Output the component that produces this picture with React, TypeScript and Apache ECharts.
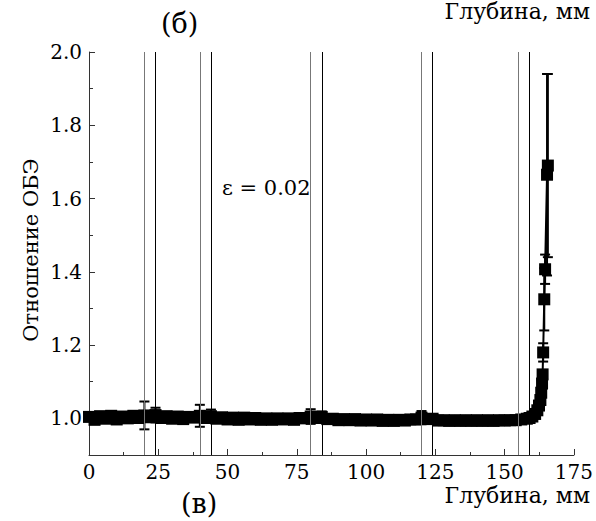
import React, { useEffect, useRef } from "react";
import * as echarts from "echarts";

// Depth (mm) and RBE ratio along the flat part
const flatDepth = [
  0, 2, 4, 6, 8, 10, 12, 14, 16, 18, 20, 22, 24, 26, 28, 30, 32, 34, 36, 38,
  40, 42, 44, 46, 48, 50, 52, 54, 56, 58, 60, 62, 64, 66, 68, 70, 72, 74, 76, 78,
  80, 82, 84, 86, 88, 90, 92, 94, 96, 98, 100, 102, 104, 106, 108, 110, 112, 114, 116, 118,
  120, 122, 124, 126, 128, 130, 132, 134, 136, 138, 140, 142, 144, 146, 148, 150, 152, 154, 156, 158,
];
const flatRatio = [
  1.004, 0.996, 1.006, 0.999, 1.007, 0.997, 1.005, 1.0, 1.007, 1.001, 1.008, 1.003, 1.009, 1.001, 1.006, 0.999, 1.005, 0.998, 1.004, 1.002,
  1.007, 1.001, 1.006, 0.999, 1.003, 0.997, 1.002, 0.996, 1.002, 0.997, 1.001, 0.996, 1.0, 0.996, 1.0, 0.997, 1.0, 0.996, 1.001, 1.0,
  1.005, 1.001, 1.004, 0.998, 0.999, 0.995, 0.998, 0.995, 0.998, 0.994, 0.997, 0.994, 0.997, 0.993, 0.996, 0.993, 0.996, 0.994, 0.997, 0.997,
  1.002, 0.998, 0.999, 0.994, 0.995, 0.993, 0.995, 0.993, 0.995, 0.993, 0.995, 0.993, 0.995, 0.993, 0.995, 0.994, 0.995, 0.995, 0.997, 0.999,
];
// Distal rise near the end of the range
const riseDepth = [159, 160, 161, 161.8, 162.4, 162.9, 163.2, 163.5, 163.7, 163.9, 164.3, 164.6, 165.3, 165.6];
const riseRatio = [1.001, 1.005, 1.012, 1.022, 1.035, 1.05, 1.07, 1.095, 1.12, 1.18, 1.325, 1.407, 1.665, 1.69];

// Error bars: depth, ratio, half-width
const errDepth = [20, 24, 40, 44, 80, 84, 120, 124, 163.9, 164.3, 164.6, 165.3, 165.6];
const errRatio = [1.008, 1.009, 1.007, 1.006, 1.005, 1.004, 1.002, 0.999, 1.18, 1.325, 1.407, 1.665, 1.69];
const errSize = [0.038, 0.02, 0.03, 0.018, 0.02, 0.015, 0.018, 0.012, 0.025, 0.085, 0.04, 0.275, 0.25];

// Vertical reference lines (pairs)
const grayLines = [20, 40, 80, 120, 155];
const blackLines = [24, 44, 84, 124, 159];

const yMajor = [1.0, 1.2, 1.4, 1.6, 1.8, 2.0];
const yMinor = [1.1, 1.3, 1.5, 1.7, 1.9];

const FONT = "DejaVu Serif";

export default function App() {
  const ref = useRef<HTMLDivElement>(null);
  useEffect(() => {
    if (!ref.current) return;
    const chart = echarts.init(ref.current, null, { renderer: "svg" });
    const mainData = [
      ...flatDepth.map((d, i) => [d, flatRatio[i]]),
      ...riseDepth.map((d, i) => [d, riseRatio[i]]),
    ];
    const errData = errDepth.map((d, i) => [d, errRatio[i], errSize[i]]);
    const txt = (text: string, size: number) => ({
      text,
      fontFamily: FONT,
      fontSize: size,
      fill: "#000",
    });
    const option: any = {
      animation: false,
      textStyle: { fontFamily: FONT },
      grid: { left: 89, right: 18, top: 52, bottom: 66, containLabel: false },
      xAxis: {
        type: "value",
        min: 0,
        max: 175,
        interval: 25,
        axisLine: { show: true, lineStyle: { color: "#333", width: 1 } },
        axisTick: { show: true, inside: true, length: 6, lineStyle: { color: "#333" } },
        minorTick: { show: true, splitNumber: 2, length: 3, lineStyle: { color: "#333" } },
        axisLabel: { fontSize: 20, fontFamily: FONT, color: "#000", margin: 7 },
        splitLine: { show: false },
      },
      yAxis: [
        {
          type: "value",
          min: 0.9,
          max: 2.0,
          axisLine: { show: true, lineStyle: { color: "#333", width: 1 } },
          axisTick: { show: true, inside: true, length: 6, customValues: yMajor, lineStyle: { color: "#333" } },
          axisLabel: {
            customValues: yMajor,
            formatter: (v: number) => v.toFixed(1),
            fontSize: 20,
            fontFamily: FONT,
            color: "#000",
            margin: 7,
          },
          splitLine: { show: false },
        },
        {
          type: "value",
          min: 0.9,
          max: 2.0,
          position: "left",
          axisLine: { show: false },
          axisTick: { show: true, inside: true, length: 4, customValues: yMinor, lineStyle: { color: "#333" } },
          axisLabel: { show: false },
          splitLine: { show: false },
        },
      ],
      series: [
        {
          type: "line",
          data: mainData,
          symbol: "rect",
          symbolSize: 12,
          showAllSymbol: true,
          itemStyle: { color: "#000" },
          lineStyle: { color: "#000", width: 2 },
          z: 3,
          markLine: {
            silent: true,
            symbol: ["none", "none"],
            label: { show: false },
            animation: false,
            data: [
              ...grayLines.map((v) => ({ xAxis: v, lineStyle: { color: "#777", width: 1, type: "solid" } })),
              ...blackLines.map((v) => ({ xAxis: v, lineStyle: { color: "#000", width: 1, type: "solid" } })),
            ],
          },
        },
        {
          type: "custom",
          data: errData,
          encode: { x: 0, y: 1 },
          z: 4,
          renderItem: (params: any, api: any) => {
            const x = api.value(0);
            const y = api.value(1);
            const e = api.value(2);
            const top = api.coord([x, y + e]);
            const bot = api.coord([x, y - e]);
            const hw = 5;
            const st = { stroke: "#000", lineWidth: 2 };
            return {
              type: "group",
              children: [
                { type: "line", shape: { x1: top[0], y1: top[1], x2: bot[0], y2: bot[1] }, style: st },
                { type: "line", shape: { x1: top[0] - hw, y1: top[1], x2: top[0] + hw, y2: top[1] }, style: st },
                { type: "line", shape: { x1: bot[0] - hw, y1: bot[1], x2: bot[0] + hw, y2: bot[1] }, style: st },
              ],
            };
          },
        },
      ],
      graphic: [
        { type: "text", left: 161, top: 10, style: txt("(б)", 27) },
        { type: "text", right: 6, top: 0, style: txt("Глубина, мм", 22) },
        { type: "text", right: 6, top: 484, style: txt("Глубина, мм", 22) },
        { type: "text", left: 181, top: 490, style: txt("(в)", 27) },
        { type: "text", left: 222, top: 177, style: txt("ε = 0.02", 21) },
        {
          type: "text",
          x: 31,
          y: 250,
          rotation: Math.PI / 2,
          style: { ...txt("Отношение ОБЭ", 21), textAlign: "center", textVerticalAlign: "middle" },
        },
      ],
    };
    chart.setOption(option);
    return () => chart.dispose();
  }, []);
  return (
    <div
      ref={ref}
      style={{ position: "absolute", left: 0, top: 0, width: 596, height: 521 }}
    />
  );
}
